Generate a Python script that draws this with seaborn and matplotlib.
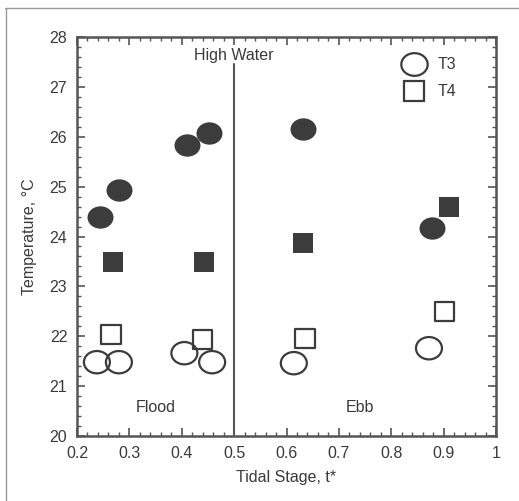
import numpy as np
import pandas as pd
import seaborn as sns
from matplotlib import pyplot as plt
from matplotlib import ticker as plticker
from matplotlib.path import Path
from matplotlib.lines import Line2D
from matplotlib.transforms import Affine2D

# filled circles / filled squares (solid) and open circles / open squares
fill_circle_x = [0.244, 0.280, 0.410, 0.452, 0.631, 0.877]
fill_circle_t = [24.39, 24.93, 25.83, 26.07, 26.15, 24.17]
fill_square_x = [0.268, 0.442, 0.631, 0.910]
fill_square_t = [23.49, 23.49, 23.87, 24.59]
open_circle_x = [0.238, 0.280, 0.405, 0.458, 0.614, 0.872]
open_circle_t = [21.48, 21.48, 21.66, 21.48, 21.46, 21.76]
open_square_x = [0.265, 0.440, 0.635, 0.902]
open_square_t = [22.04, 21.94, 21.96, 22.50]

legend_labels = ['T3', 'T4']

sns.set_theme(style='white')
plt.rcParams['font.family'] = ['Liberation Sans', 'DejaVu Sans']

gray = '#3c3c3c'
txt = '#3a3a3a'
ellipse = Path.unit_circle().transformed(Affine2D().scale(1.0, 0.86))

fig = plt.figure(figsize=(5.19, 5.01), dpi=100)
ax = fig.add_axes([77 / 519, 1 - 436 / 501, (496 - 77) / 519, (436 - 37) / 501])

sns.scatterplot(x=fill_circle_x, y=fill_circle_t, ax=ax, marker=ellipse,
                s=350, color=gray, edgecolor=gray, linewidth=0)
sns.scatterplot(x=fill_square_x, y=fill_square_t, ax=ax, marker='s',
                s=195, color=gray, edgecolor=gray, linewidth=0)
sns.scatterplot(x=open_circle_x, y=open_circle_t, ax=ax, marker=ellipse,
                s=350, facecolor='none', edgecolor=gray, linewidth=1.6)
sns.scatterplot(x=open_square_x, y=open_square_t, ax=ax, marker='s',
                s=195, facecolor='none', edgecolor=gray, linewidth=1.6)

# high water divider
ax.plot([0.5, 0.5], [20, 27.45], color='#555555', lw=1.5, zorder=1)
ax.text(0.5, 27.63, 'High Water', ha='center', va='center', fontsize=11.5, color=txt)
ax.text(0.35, 20.58, 'Flood', ha='center', va='center', fontsize=11.5, color=txt)
ax.text(0.74, 20.58, 'Ebb', ha='center', va='center', fontsize=11.5, color=txt)

ax.set_xlim(0.2, 1.0)
ax.set_ylim(20, 28)
ax.xaxis.set_major_locator(plticker.MultipleLocator(0.1))
ax.xaxis.set_minor_locator(plticker.MultipleLocator(0.02))
ax.yaxis.set_major_locator(plticker.MultipleLocator(1))
ax.yaxis.set_minor_locator(plticker.MultipleLocator(0.2))
ax.xaxis.set_major_formatter(plticker.FuncFormatter(lambda v, p: f'{v:g}'))
ax.tick_params(which='both', direction='in', top=True, right=True, bottom=True, left=True,
               color='#555555', labelsize=11.5, labelcolor=txt)
ax.tick_params(which='major', length=6, width=1.2, pad=7)
ax.tick_params(which='minor', length=3, width=1.0)
for sp in ax.spines.values():
    sp.set_color('#555555')
    sp.set_linewidth(1.8)

ax.set_xlabel('Tidal Stage, t*', fontsize=11.5, color=txt, labelpad=7)
ax.set_ylabel('Temperature, °C', fontsize=11.5, color=txt, labelpad=9)

handles = [
    Line2D([], [], ls='none', marker=ellipse, markersize=19, markerfacecolor='none',
           markeredgecolor=gray, markeredgewidth=1.6),
    Line2D([], [], ls='none', marker='s', markersize=14, markerfacecolor='none',
           markeredgecolor=gray, markeredgewidth=1.6),
]
ax.legend(handles, legend_labels, loc='upper right', frameon=False, fontsize=11.5,
          bbox_to_anchor=(0.94, 0.985), labelspacing=0.75, handletextpad=0.5,
          labelcolor=txt)

# scanned-page border
fig.add_artist(Line2D([5 / 519, 1], [1 - 8 / 501, 1 - 8 / 501], color='#999999', lw=1))
fig.add_artist(Line2D([6 / 519, 6 / 519], [0, 1 - 8 / 501], color='#999999', lw=1))

fig.savefig('out.png', dpi=100)
